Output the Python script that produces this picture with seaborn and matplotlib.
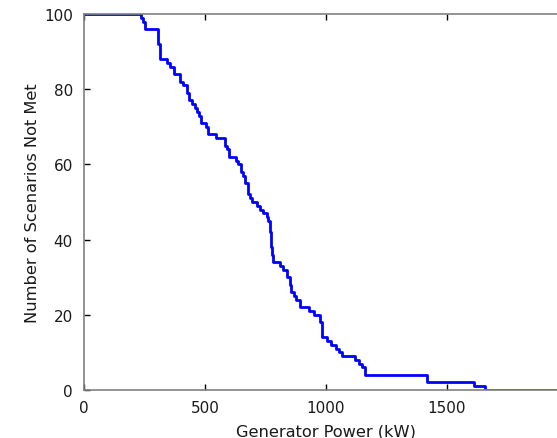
import matplotlib
matplotlib.use("Agg")
import matplotlib.pyplot as plt
import seaborn as sns
import pandas as pd

# Step change points: generator power (kW) and number of scenarios not met
power_kw = [0, 235, 244, 252, 305, 316, 343, 355, 372, 397, 410, 426, 432, 446, 457,
            467, 475, 484, 504, 514, 545, 583, 590, 600, 628, 638, 648, 656, 665,
            678, 688, 695, 713, 727, 740, 755, 760, 768, 772, 776, 782, 808, 824,
            838, 850, 857, 868, 875, 893, 930, 950, 975, 983, 1005, 1020, 1040,
            1055, 1065, 1120, 1135, 1147, 1160, 1418, 1612, 1655, 2000]
not_met = [100, 99, 98, 96, 92, 88, 87, 86, 84, 82, 81, 79, 77, 76, 75,
           74, 73, 71, 70, 68, 67, 65, 64, 62, 61, 60, 58, 57, 55,
           52, 51, 50, 49, 48, 47, 46, 45, 42, 38, 36, 34, 33, 32,
           30, 28, 26, 25, 24, 22, 21, 20, 18, 14, 13, 12, 11,
           10, 9, 8, 7, 6, 4, 2, 1, 0, 0]

x_ticks = [0, 500, 1000, 1500]
y_ticks = [0, 20, 40, 60, 80, 100]

df = pd.DataFrame({"power": power_kw, "count": not_met})

sns.set_style("ticks")
plt.rcParams["font.family"] = ["DejaVu Sans"]

fig = plt.figure(figsize=(5.57, 4.39), dpi=100)
ax = fig.add_axes([84 / 557, 1 - 391 / 439, 484 / 557, (391 - 15) / 439])

sns.lineplot(data=df, x="power", y="count", ax=ax, color="#0000ff",
             linewidth=2.0, drawstyle="steps-post")

ax.set_xlim(0, 2000)
ax.set_ylim(0, 100)
ax.set_xticks(x_ticks)
ax.set_yticks(y_ticks)
ax.tick_params(direction="in", length=4, width=1, colors="black",
               labelcolor="#1a1a1a", labelsize=11, top=True, right=True)
ax.tick_params(axis="x", pad=7)
ax.tick_params(axis="y", pad=8)
for s in ax.spines.values():
    s.set_color("#808080")
    s.set_linewidth(1.2)

ax.set_xlabel("Generator Power (kW)", fontsize=11.7, color="#1a1a1a", labelpad=6)
ax.set_ylabel("Number of Scenarios Not Met", fontsize=11.7, color="#1a1a1a", labelpad=3)

fig.savefig("out.png", dpi=100)
